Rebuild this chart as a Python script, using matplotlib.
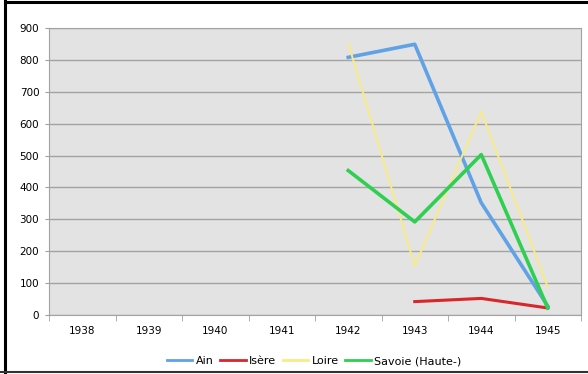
import numpy as np
import matplotlib.pyplot as plt
from matplotlib.lines import Line2D

years = ['1938', '1939', '1940', '1941', '1942', '1943', '1944', '1945']
nan = np.nan
ain = [nan, nan, nan, nan, 808, 849, 352, 28]
isere = [nan, nan, nan, nan, nan, 42, 52, 22]
loire = [nan, nan, nan, nan, 852, 154, 638, 88]
savoie = [nan, nan, nan, nan, 453, 292, 503, 22]

W, H = 588, 374
fig = plt.figure(figsize=(W / 100, H / 100), dpi=100)
ax = fig.add_axes([49 / W, 1 - 315 / H, 532 / W, 287 / H])

x = np.arange(len(years))
ax.plot(x, ain, color='#5fa2e6', lw=2.6, label='Ain')
ax.plot(x, isere, color='#d8262b', lw=2.2, label='Isère')
ax.plot(x, loire, color='#f8eb86', lw=1.4, label='Loire')
ax.plot(x, savoie, color='#2fd052', lw=2.6, label='Savoie (Haute-)')

ax.set_facecolor('#e3e3e3')
ax.set_xlim(-0.5, len(years) - 0.5)
ax.set_ylim(0, 900)
ax.set_yticks(range(0, 901, 100))
ax.set_xticks(x)
ax.set_xticklabels(years)
ax.set_xticks(np.arange(-0.5, len(years), 1), minor=True)
ax.tick_params(axis='x', which='major', length=0, labelsize=7.5, pad=8)
ax.tick_params(axis='x', which='minor', length=4, color='#a0a0a0')
ax.tick_params(axis='y', length=3, color='#a0a0a0', labelsize=7.5, pad=4)
ax.yaxis.grid(True, color='#a3a3a3', lw=1)
ax.set_axisbelow(True)
for s in ax.spines.values():
    s.set_color('#a3a3a3')

leg = fig.legend(loc='center', bbox_to_anchor=(314 / W, 1 - 361 / H), ncol=4,
                 frameon=False, fontsize=8, handlelength=2.3, columnspacing=0.6,
                 handletextpad=0.3)
for h in leg.get_lines():
    h.set_linewidth(2)

# screenshot frame: left and top black, bottom dark
fig.add_artist(Line2D([4.5 / W, 4.5 / W], [1 - 372 / H, 1], transform=fig.transFigure,
                      color='black', lw=2.2))
fig.add_artist(Line2D([4.5 / W, 1], [1 - 2 / H, 1 - 2 / H], transform=fig.transFigure,
                      color='black', lw=2.2))
fig.add_artist(Line2D([0, 1], [1 - 372 / H, 1 - 372 / H], transform=fig.transFigure,
                      color='#333333', lw=1.5))

fig.savefig('out.png', dpi=100)
